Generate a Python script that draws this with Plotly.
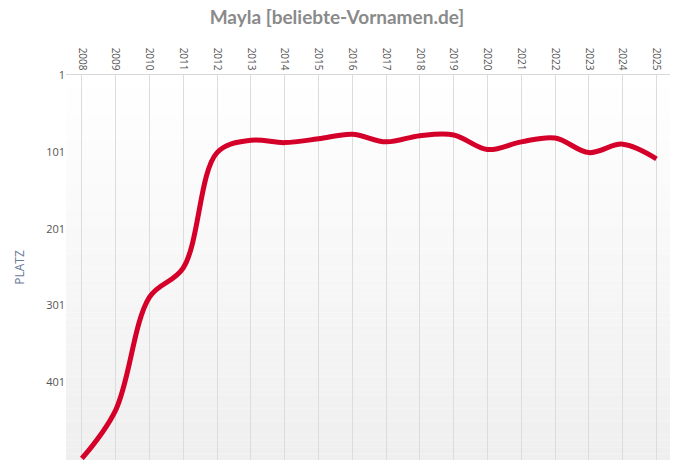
import plotly.graph_objects as go

years = list(range(2008, 2026))
ranks = [500, 437, 290, 252, 102, 86, 89, 84, 78, 88, 80, 79, 98, 88, 83, 102, 91, 110]
y_ticks = [1, 101, 201, 301, 401]

fig = go.Figure()

# background gradient bands (white at top -> light gray at bottom)
n = 60
shapes = []
for i in range(n):
    t = i / (n - 1)
    c = int(round(255 - 16 * t))
    shapes.append(dict(type="rect", xref="paper", yref="paper",
                       x0=0, x1=1, y0=1 - (i + 1) / n, y1=1 - i / n,
                       fillcolor=f"rgb({c},{c},{c})", line=dict(width=0), layer="below"))

fig.add_trace(go.Scatter(
    x=years, y=ranks, mode="lines",
    line=dict(color="#d4002a", width=5, shape="spline", smoothing=1.0),
    hoverinfo="x+y", showlegend=False, cliponaxis=True,
))

fig.update_layout(
    width=689, height=474,
    margin=dict(l=66, r=19, t=75, b=14),
    paper_bgcolor="white", plot_bgcolor="rgba(0,0,0,0)",
    shapes=shapes,
    title=dict(text="<b>Mayla [beliebte-Vornamen.de]</b>", x=0.489, xanchor="center",
               y=0.978, yanchor="top",
               font=dict(family="Lato, Open Sans, sans-serif", size=19, color="#8a8a8a")),
    xaxis=dict(side="top", tickmode="array", tickvals=years, ticktext=[str(y) for y in years],
               tickangle=90, range=[2007.53, 2025.4],
               showgrid=True, gridcolor="#dcdcdc", gridwidth=1,
               showline=True, linecolor="#d8d8d8", zeroline=False,
               ticks="", tickfont=dict(family="Open Sans, sans-serif", size=10, color="#555")),
    yaxis=dict(autorange=False, range=[502, 1], tickmode="array", tickvals=y_ticks,
               ticktext=[str(v) for v in y_ticks], showgrid=False, zeroline=False,
               showline=False, ticks="",
               tickfont=dict(family="Open Sans, sans-serif", size=11, color="#555"),
               title=dict(text="PLATZ", font=dict(family="Open Sans, sans-serif", size=12, color="#6b7a99"),
                          standoff=18)),
)

fig.write_html("out.html")
